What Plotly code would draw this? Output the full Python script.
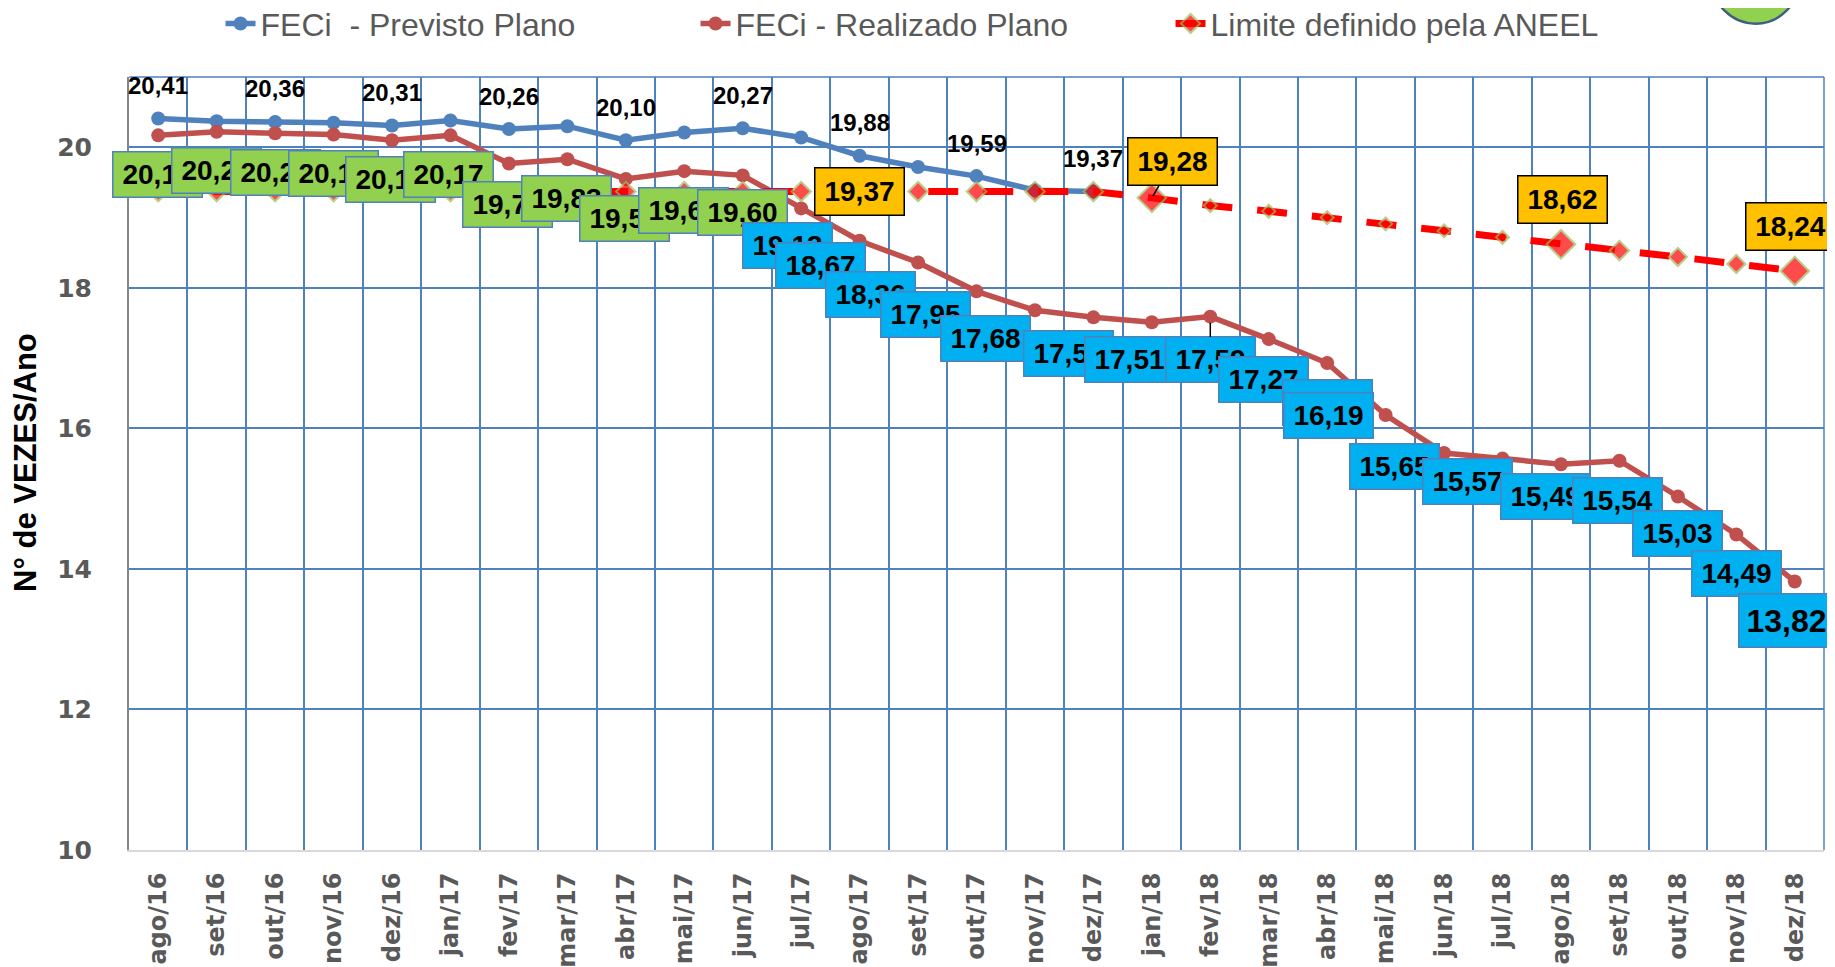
import plotly.graph_objects as go

# ---------------- data ----------------
months = ["ago/16", "set/16", "out/16", "nov/16", "dez/16",
          "jan/17", "fev/17", "mar/17", "abr/17", "mai/17", "jun/17",
          "jul/17", "ago/17", "set/17", "out/17", "nov/17", "dez/17",
          "jan/18", "fev/18", "mar/18", "abr/18", "mai/18", "jun/18",
          "jul/18", "ago/18", "set/18", "out/18", "nov/18", "dez/18"]

previsto = [20.41, 20.37, 20.36, 20.35, 20.31, 20.38, 20.26, 20.30, 20.10,
            20.21, 20.27, 20.14, 19.88, 19.72, 19.59, 19.39, 19.37]

realizado = [20.17, 20.22, 20.20, 20.18, 20.10, 20.17, 19.77, 19.83, 19.55,
             19.66, 19.60, 19.13, 18.67, 18.36, 17.95, 17.68, 17.58, 17.51,
             17.59, 17.27, 16.93, 16.19, 15.65, 15.57, 15.49, 15.54, 15.03,
             14.49, 13.82]

limite = [19.37, 19.37, 19.37, 19.37, 19.37, 19.37, 19.37, 19.37, 19.37,
          19.37, 19.37, 19.37, 19.37, 19.37, 19.37, 19.37, 19.37, 19.28,
          19.17, 19.09, 19.00, 18.91, 18.81, 18.72, 18.62, 18.53, 18.44,
          18.34, 18.24]

previsto_label_idx = [0, 2, 4, 6, 8, 10, 12, 14, 16]
limite_label_idx = [12, 17, 24, 28]

y_ticks = [10, 12, 14, 16, 18, 20]

names = ["FECi  - Previsto Plano", "FECi - Realizado Plano", "Limite definido pela ANEEL"]

# ---------------- styles / positions ----------------
BLUE = "#4f81bd"
RED = "#c0504d"
LIM = "#ff0000"
GRID = "#4f81bd"
LABEL_FONT = "Liberation Sans"
AXIS_FONT = "DejaVu Sans"

# marker sizes of the limit diamonds
limite_sizes = [15, 15, 15, 15, 15, 15, 15, 15, 15, 15, 15, 15, 15, 15, 15, 15,
                15, 22, 10, 10, 10, 10, 10, 10, 22, 15, 14, 14, 22]

# label box offsets (pixels, right / down) for the realised series
real_off = [(-1, 39), (0, 39), (0, 39), (0, 39), (-2, 39), (-2, 39), (-1, 41),
            (-1, 39), (-1, 40), (-1, 39), (0, 37), (-14, 37), (-39, 25),
            (-48, 32), (-51, 23), (-49, 28), (-25, 36), (-22, 37), (0, 43),
            (-5, 40), (0, 39), (-57, 0), (-50, 14), (-35, 23), (-15, 32),
            (-2, 40), (0, 37), (0, 39), (-8, 39)]
real_leader = [18]
lim_off = [(0, 0), (21, -36), (2, -45), (-4, -44)]
lim_leader = [17]

# the page body adds an 8px offset; margins compensate for it
OFF = 8


def fmt(v):
    return f"{v:.2f}".replace(".", ",")


fig = go.Figure()

fig.add_trace(go.Scatter(
    x=months[:len(previsto)], y=previsto, name=names[0], mode="lines+markers",
    line=dict(color=BLUE, width=5.5), marker=dict(color=BLUE, size=14),
))
fig.add_trace(go.Scatter(
    x=months, y=realizado, name=names[1], mode="lines+markers",
    line=dict(color=RED, width=5.5), marker=dict(color=RED, size=14),
))
fig.add_trace(go.Scatter(
    x=months, y=limite, name=names[2], mode="lines+markers",
    line=dict(color=LIM, width=7, dash="30px,25px"),
    marker=dict(symbol="diamond", color=LIM, size=limite_sizes,
                line=dict(color="#9bbb59", width=2)),
))

annotations = []

# labels of the planned series (plain black text above the points)
for i in previsto_label_idx:
    annotations.append(dict(
        x=months[i], y=previsto[i], xref="x", yref="y", text=fmt(previsto[i]),
        showarrow=False, yshift=33,
        font=dict(family=LABEL_FONT, size=24, color="black", weight="bold"),
    ))

# labels of the realised series (boxes)
for i, v in enumerate(realizado):
    dx, dy = real_off[i]
    big = (i == len(realizado) - 1)
    box = dict(
        x=months[i], y=v, xref="x", yref="y", text=fmt(v),
        font=dict(family=LABEL_FONT, size=32 if big else 28, color="black", weight="bold"),
        bgcolor="#92d050" if i <= 10 else "#00b0f0",
        bordercolor="#4f81bd", borderwidth=1.5, borderpad=2,
        width=90 if big else 84, height=48 if big else 40,
        xanchor="center", yanchor="middle",
    )
    if i in real_leader:
        box.update(showarrow=True, arrowhead=0, arrowwidth=1.5, arrowcolor="black",
                   ax=dx, ay=dy, standoff=6)
    else:
        box.update(showarrow=False, xshift=dx, yshift=-dy)
    annotations.append(box)

# labels of the limit series (gold boxes)
for k, i in enumerate(limite_label_idx):
    dx, dy = lim_off[k]
    box = dict(
        x=months[i], y=limite[i], xref="x", yref="y", text=fmt(limite[i]),
        font=dict(family=LABEL_FONT, size=28, color="black", weight="bold"),
        bgcolor="#ffc000", bordercolor="black", borderwidth=1.5, borderpad=2,
        width=84, height=42, xanchor="center", yanchor="middle",
    )
    if i in lim_leader:
        box.update(showarrow=True, arrowhead=0, arrowwidth=1.5, arrowcolor="black",
                   ax=dx, ay=dy, standoff=2)
    else:
        box.update(showarrow=False, xshift=dx, yshift=-dy)
    annotations.append(box)

# y axis title
annotations.append(dict(
    x=-0.0608, y=0.502, xref="paper", yref="paper", text="N° de VEZES/Ano",
    textangle=-90, showarrow=False, xanchor="center", yanchor="middle",
    font=dict(family=LABEL_FONT, size=31, color="black", weight="bold"),
))

shapes = [
    # plot area top and right borders
    dict(type="line", xref="paper", yref="paper", x0=0, x1=1, y0=1, y1=1,
         line=dict(color=GRID, width=1.5)),
    dict(type="line", xref="paper", yref="paper", x0=1, x1=1, y0=0, y1=1,
         line=dict(color=GRID, width=1.5)),
    # logo partly visible at the top right
    dict(type="circle", xref="paper", yref="paper", x0=0.9340, x1=0.9852,
         y0=1.0690, y1=1.1811, fillcolor="#92d050", line=dict(color="#41607f", width=2.5)),
    dict(type="circle", xref="paper", yref="paper", x0=0.9448, x1=0.9752,
         y0=1.0925, y1=1.1598, fillcolor="#92d050", line=dict(color="#41607f", width=2.5)),
]

fig.update_layout(
    width=1835, height=967,
    margin=dict(l=129 - OFF, r=11 + OFF, t=77 - OFF, b=117 + OFF, autoexpand=False),
    paper_bgcolor="white", plot_bgcolor="white",
    showlegend=True,
    legend=dict(orientation="h", x=0.054, y=1.069, xanchor="left", yanchor="middle",
                font=dict(family=LABEL_FONT, size=32, color="#595959"),
                entrywidth=430, entrywidthmode="pixels", bgcolor="rgba(0,0,0,0)"),
    annotations=annotations,
    shapes=shapes,
)

fig.update_xaxes(
    type="category", categoryorder="array", categoryarray=months,
    range=[-0.5, len(months) - 0.5], tickson="boundaries", automargin=False,
    showgrid=True, gridcolor=GRID, gridwidth=1.5,
    showline=True, linecolor="#d9d9d9", linewidth=2,
    ticks="", tickangle=-90, ticklabelstandoff=11,
    tickfont=dict(family=AXIS_FONT, size=24, color="#595959", weight="bold"),
)
fig.update_yaxes(
    range=[10, 21], tickvals=y_ticks, showgrid=True, gridcolor=GRID, gridwidth=1.5,
    automargin=False,
    zeroline=False, showline=True, linecolor="#868686", linewidth=2,
    ticks="", ticklabelstandoff=30,
    tickfont=dict(family=AXIS_FONT, size=25, color="#595959", weight="bold"),
)

fig.write_html("out.html")
